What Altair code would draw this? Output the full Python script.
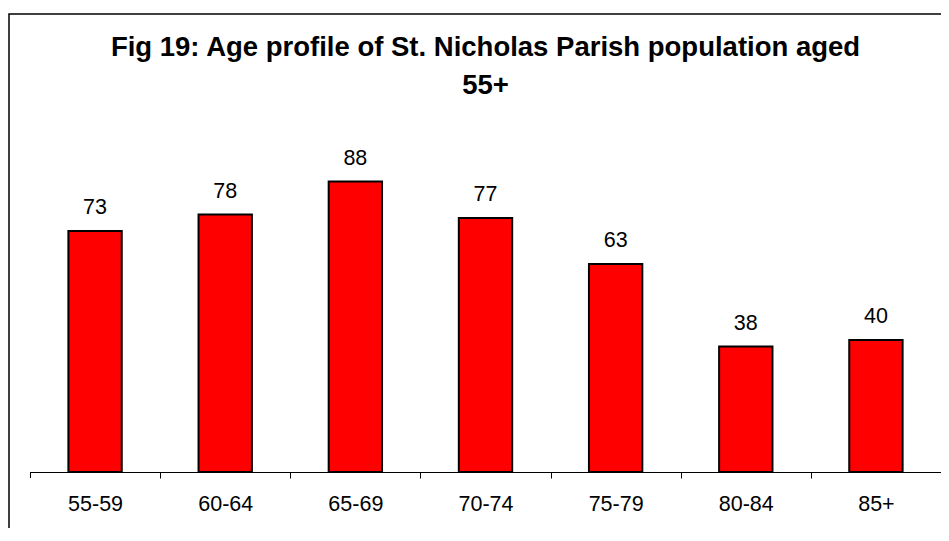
import altair as alt
import pandas as pd

categories = ["55-59", "60-64", "65-69", "70-74", "75-79", "80-84", "85+"]
values = [73, 78, 88, 77, 63, 38, 40]
title_lines = ["Fig 19: Age profile of St. Nicholas Parish population aged", "55+"]

df = pd.DataFrame({"age": categories, "count": values})

FONT = "Liberation Sans"
W, H = 911, 330
TICK = 6
STEP = W / len(categories)

x_enc = alt.X(
    "age:N",
    sort=categories,
    title=None,
    scale=alt.Scale(paddingInner=0.59, paddingOuter=0.295),
    axis=alt.Axis(
        labelAngle=0,
        labelFont=FONT,
        labelFontSize=21.5,
        labelColor="black",
        labelPadding=15,
        labelOffset=-STEP / 2,
        ticks=True,
        tickBand="center",
        tickOffset=STEP / 2,
        tickSize=TICK,
        tickColor="black",
        tickWidth=1,
        domainColor="black",
        domainWidth=1,
        grid=False,
    ),
)
y_enc = alt.Y("count:Q", scale=alt.Scale(domain=[0, 100]), axis=None)

bars = alt.Chart(df).mark_bar(
    color="#FF0000", stroke="black", strokeWidth=2
).encode(x=x_enc, y=y_enc)

labels = alt.Chart(df).mark_text(
    font=FONT, fontSize=21.5, color="black", baseline="alphabetic", dy=-17
).encode(x=alt.X("age:N", sort=categories), y="count:Q", text="count:Q")

one = pd.DataFrame({"a": [0]})

# tick at the very start of the category axis
first_tick = alt.Chart(one).mark_rule(color="black", strokeWidth=1).encode(
    x=alt.value(0.5), y=alt.value(H), y2=alt.value(H + TICK)
)

border = alt.Chart(one).mark_rect(
    fillOpacity=0, stroke="black", strokeWidth=1.5
).encode(
    x=alt.value(-21), x2=alt.value(1000), y=alt.value(-128), y2=alt.value(600)
)

title = alt.Chart(one).mark_text(
    font=FONT, fontSize=27.5, fontWeight="bold", color="black",
    align="center", baseline="alphabetic", lineHeight=38,
).encode(
    x=alt.value(W / 2), y=alt.value(-86), text=alt.value(title_lines)
)

chart = alt.layer(border, title, bars, labels, first_tick).properties(
    width=W,
    height=H,
    padding={"left": 22, "top": 134, "right": 0, "bottom": 56},
    autosize=alt.AutoSizeParams(type="none"),
).configure(background="white").configure_view(stroke=None)

chart.save("out.html", embed_options={"renderer": "svg", "actions": False})
